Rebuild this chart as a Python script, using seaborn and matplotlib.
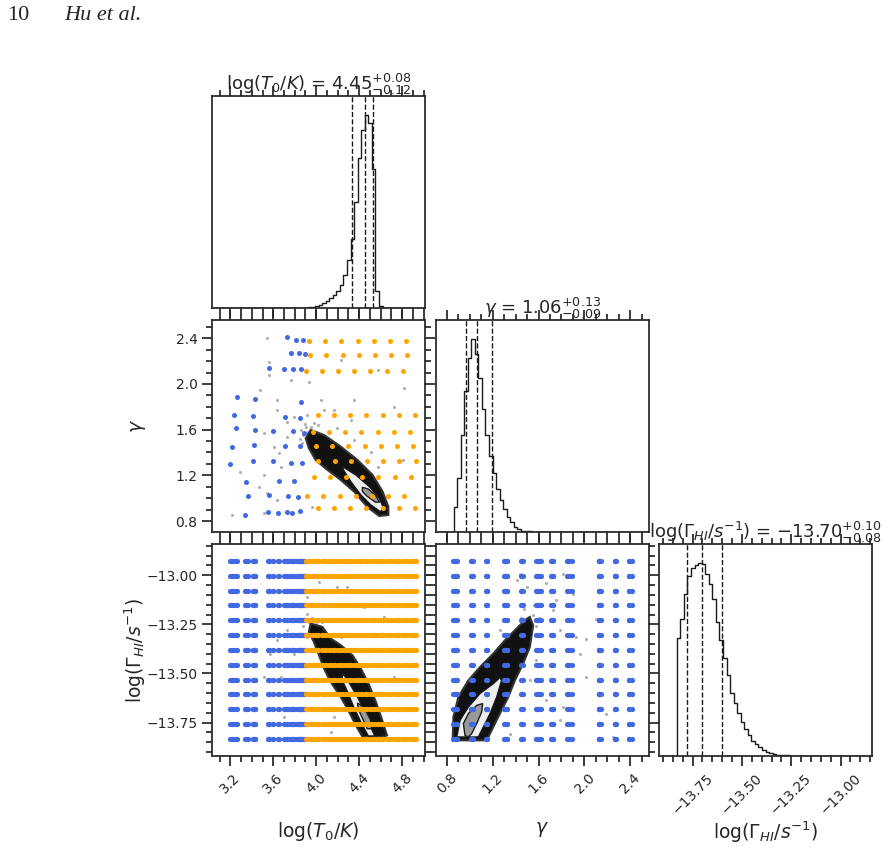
import numpy as np
import pandas as pd
import seaborn as sns
import matplotlib.pyplot as plt
from matplotlib.ticker import MultipleLocator

sns.set_theme(style="ticks")
plt.rcParams["font.family"] = ["DejaVu Sans"]

# parameter ranges shown on the axes
t_range = (3.03, 5.015)
g_range = (0.704, 2.562)
G_range = (-13.92, -12.84)
n_bins = 60

# 1D marginals (relative counts, starting at a given bin)
t_first = 26
t_hist = [0.002, 0.004, 0.007, 0.011, 0.017, 0.025, 0.035, 0.05, 0.068, 0.09,
          0.12, 0.17, 0.25, 0.36, 0.55, 0.78, 0.92, 1.0, 0.96, 0.72, 0.09, 0.01]
g_first = 5
g_hist = [0.127, 0.282, 0.501, 0.730, 0.902, 1.0, 0.923, 0.799, 0.639, 0.501,
          0.392, 0.306, 0.225, 0.165, 0.117, 0.079, 0.050, 0.028, 0.014, 0.007,
          0.004, 0.003, 0.002, 0.002, 0.001, 0.001]
G_first = 5
G_hist = [0.614, 0.710, 0.842, 0.931, 0.976, 0.988, 1.0, 0.993, 0.945, 0.890,
          0.816, 0.696, 0.602, 0.508, 0.422, 0.328, 0.276, 0.225, 0.177, 0.139,
          0.108, 0.079, 0.062, 0.045, 0.031, 0.022, 0.015, 0.010, 0.007, 0.005,
          0.004, 0.003, 0.002, 0.002, 0.001]

# 16/50/84 percentiles
t_q = [4.33, 4.45, 4.53]
g_q = [0.97, 1.06, 1.19]
G_q = [-13.78, -13.70, -13.60]

# training simulations (blue: low T0, orange: high T0)
blue_t = [3.730, 3.808, 3.877, 3.761, 3.839, 3.895, 3.565, 3.699, 3.786, 3.855,
          3.262, 3.434, 3.855, 3.237, 3.412, 3.708, 3.845, 3.256, 3.428, 3.599,
          3.786, 3.886, 3.219, 3.425, 3.705, 3.845, 3.200, 3.415, 3.596, 3.761,
          3.864, 3.350, 3.655, 3.792, 3.368, 3.565, 3.733, 3.833, 3.340, 3.552,
          3.646, 3.730, 3.771, 3.845]
blue_g = [2.411, 2.385, 2.385, 2.268, 2.274, 2.263, 2.140, 2.128, 2.128, 2.128,
          1.889, 1.868, 1.845, 1.728, 1.723, 1.714, 1.705, 1.617, 1.600, 1.591,
          1.591, 1.574, 1.451, 1.466, 1.457, 1.460, 1.299, 1.326, 1.326, 1.308,
          1.305, 1.139, 1.153, 1.153, 1.019, 1.031, 1.019, 1.013, 0.853, 0.882,
          0.873, 0.882, 0.873, 0.885]
orange_rows_g = [2.379, 2.251, 2.117, 1.728, 1.580, 1.460, 1.326, 1.185, 1.019, 0.911]
orange_rows_t = [
    [3.933, 4.082, 4.235, 4.385, 4.535, 4.687, 4.837],
    [3.942, 4.095, 4.245, 4.397, 4.550, 4.700, 4.849],
    [3.905, 4.052, 4.205, 4.355, 4.504, 4.657, 4.806],
    [4.014, 4.163, 4.315, 4.465, 4.618, 4.767, 4.920],
    [3.970, 4.119, 4.271, 4.421, 4.574, 4.723, 4.876],
    [3.998, 4.148, 4.297, 4.450, 4.599, 4.749, 4.902],
    [4.020, 4.173, 4.323, 4.475, 4.625, 4.774, 4.926],
    [3.980, 4.129, 4.281, 4.431, 4.580, 4.733, 4.883],
    [3.914, 4.067, 4.217, 4.366, 4.519, 4.669, 4.822],
    [4.017, 4.166, 4.318, 4.468, 4.618, 4.767, 4.920],
]
G_levels = [-12.927, -13.002, -13.078, -13.154, -13.228, -13.305, -13.380,
            -13.455, -13.533, -13.606, -13.682, -13.757, -13.834]

# posterior regions: dense cloud, outer contour, inner contour
tg_cloud_t = [3.948, 4.073, 4.229, 4.385, 4.525, 4.619, 4.672, 4.672, 4.587, 4.479,
              4.353, 4.229, 4.105, 3.995, 3.932, 3.902]
tg_cloud_g = [1.597, 1.553, 1.451, 1.334, 1.203, 1.057, 0.925, 0.853, 0.844, 0.920,
              1.057, 1.159, 1.247, 1.334, 1.437, 1.524]
tg_outer_t = [4.245, 4.369, 4.494, 4.587, 4.628, 4.597, 4.510, 4.416, 4.323, 4.254]
tg_outer_g = [1.276, 1.203, 1.101, 0.999, 0.911, 0.882, 0.940, 1.028, 1.144, 1.247]
tg_inner_t = [4.430, 4.485, 4.556, 4.590, 4.550, 4.470, 4.430]
tg_inner_g = [1.095, 1.080, 1.020, 0.965, 0.965, 1.020, 1.060]
tg_pts_t = [3.543, 3.559, 3.559, 3.481, 3.637, 3.761, 3.933, 4.042, 4.167, 3.637,
            3.730, 3.512, 3.605, 3.870, 3.652, 3.512, 3.465, 3.543, 3.294, 3.216,
            3.512, 3.637, 4.229, 4.572, 4.821, 4.728, 4.354, 4.510, 4.572, 4.806,
            4.323, 3.917, 3.902, 4.104, 4.198, 4.229, 4.354, 4.073, 3.792, 3.730,
            3.668, 3.964, 4.479, 3.88, 3.92, 3.95, 3.90, 3.86, 3.98, 4.02, 3.85,
            3.94, 4.00]
tg_pts_g = [2.400, 2.195, 2.079, 1.947, 1.860, 2.035, 2.020, 1.860, 1.772, 1.772,
            1.670, 1.568, 1.451, 1.480, 1.393, 1.203, 1.101, 1.042, 1.232, 0.853,
            0.867, 0.984, 2.210, 2.122, 1.962, 1.801, 1.509, 1.407, 1.276, 1.334,
            1.685, 1.728, 1.626, 1.451, 1.612, 1.334, 1.860, 1.772, 1.714, 1.539,
            1.276, 0.926, 1.101, 1.55, 1.58, 1.62, 1.65, 1.60, 1.66, 1.64, 1.52,
            1.50, 1.58]

tG_cloud_t = [3.948, 4.058, 4.135, 4.229, 4.338, 4.416, 4.494, 4.556, 4.610, 4.659,
              4.619, 4.432, 4.369, 4.307, 4.229, 4.135, 4.073, 4.026, 3.979, 3.932]
tG_cloud_G = [-13.246, -13.263, -13.322, -13.356, -13.407, -13.475, -13.560, -13.645,
              -13.730, -13.815, -13.823, -13.823, -13.764, -13.696, -13.620, -13.543,
              -13.475, -13.407, -13.340, -13.289]
tG_outer_t = [4.250, 4.310, 4.385, 4.455, 4.515, 4.545, 4.485, 4.410, 4.345, 4.285, 4.238]
tG_outer_G = [-13.501, -13.550, -13.620, -13.700, -13.781, -13.818, -13.818, -13.740,
              -13.665, -13.585, -13.530]
tG_inner_t = [4.385, 4.447, 4.505, 4.515, 4.475, 4.432, 4.390]
tG_inner_G = [-13.650, -13.675, -13.735, -13.781, -13.781, -13.730, -13.680]
tG_pts_t = [4.026, 4.198, 4.042, 3.917, 3.792, 3.730, 3.637, 3.574, 3.512, 3.668,
            3.792, 3.855, 4.042, 4.291, 4.447, 4.634, 4.728, 4.167, 4.135, 3.699,
            3.980, 3.917, 4.104, 4.229, 3.917, 4.073, 4.354, 4.541, 3.93, 3.96,
            4.00, 3.95, 4.03, 3.91, 3.98, 4.05, 3.88, 4.02]
tG_pts_G = [-13.034, -13.059, -13.144, -13.195, -13.229, -13.280, -13.331, -13.399,
            -13.518, -13.518, -13.399, -13.450, -13.450, -13.059, -13.161, -13.212,
            -13.518, -13.721, -13.798, -13.721, -13.263, -13.314, -13.229, -13.314,
            -13.110, -13.085, -13.670, -13.535, -13.24, -13.22, -13.25, -13.28,
            -13.27, -13.30, -13.31, -13.24, -13.26, -13.30]

gG_cloud_g = [0.852, 0.858, 0.901, 0.988, 1.090, 1.205, 1.307, 1.394, 1.481, 1.524,
              1.553, 1.524, 1.466, 1.394, 1.336, 1.278, 1.220, 1.177, 1.148]
gG_cloud_G = [-13.840, -13.721, -13.620, -13.535, -13.467, -13.399, -13.331, -13.280,
              -13.229, -13.212, -13.255, -13.365, -13.450, -13.535, -13.620, -13.687,
              -13.755, -13.806, -13.840]
gG_outer_g = [0.887, 0.916, 0.988, 1.090, 1.205, 1.263, 1.278, 1.235, 1.177, 1.119, 1.075]
gG_outer_G = [-13.823, -13.738, -13.671, -13.602, -13.552, -13.521, -13.535, -13.620,
              -13.704, -13.772, -13.823]
gG_inner_g = [0.959, 0.945, 0.988, 1.061, 1.113, 1.104, 1.061, 1.017, 0.988]
gG_inner_G = [-13.815, -13.755, -13.704, -13.662, -13.653, -13.696, -13.755, -13.806,
              -13.823]
gG_pts_g = [1.408, 1.495, 1.669, 1.814, 1.901, 1.727, 1.785, 1.930, 2.017, 2.104,
            1.959, 2.017, 1.814, 1.785, 1.669, 1.582, 1.524, 2.191, 2.249, 1.901,
            1.756, 1.437, 1.263, 1.205, 1.350, 1.45, 1.50, 1.55, 1.40, 1.48, 1.58,
            1.52, 1.42, 1.60, 1.35, 1.56, 1.47]
gG_pts_G = [-13.025, -13.059, -13.042, -12.992, -13.093, -13.178, -13.280, -13.314,
            -13.322, -13.221, -13.399, -13.518, -13.670, -13.738, -13.636, -13.433,
            -13.535, -13.704, -13.823, -13.229, -13.127, -12.992, -13.280, -13.670,
            -13.806, -13.22, -13.25, -13.20, -13.28, -13.30, -13.26, -13.34, -13.33,
            -13.22, -13.30, -13.15, -13.17]

t_label = r"$\log(T_0/K)$"
g_label = r"$\gamma$"
G_label = r"$\log(\Gamma_{HI}/s^{-1})$"

BLUE = "royalblue"
ORANGE = "orange"

# tables of simulation points
blue_df = pd.DataFrame({"t": blue_t, "g": blue_g})
orange_df = pd.DataFrame({
    "t": [t for row in orange_rows_t for t in row],
    "g": [g for g, row in zip(orange_rows_g, orange_rows_t) for _ in row],
})
lev = pd.DataFrame({"G": G_levels})
blue_G = blue_df.merge(lev, how="cross")
orange_G = orange_df.merge(lev, how="cross")

fig = plt.figure(figsize=(8.92, 8.49), dpi=100)
cols = [0.2377, 0.4885, 0.7388]
rows = [0.6372, 0.3734, 0.1095]
W, H = 0.2390, 0.2500

ax_t = fig.add_axes([cols[0], rows[0], W, H])
ax_tg = fig.add_axes([cols[0], rows[1], W, H])
ax_g = fig.add_axes([cols[1], rows[1], W, H])
ax_tG = fig.add_axes([cols[0], rows[2], W, H])
ax_gG = fig.add_axes([cols[1], rows[2], W, H])
ax_G = fig.add_axes([cols[2], rows[2], W, H])


def draw_hist(ax, rng, first, heights, quants, title):
    width = (rng[1] - rng[0]) / n_bins
    counts = np.zeros(n_bins)
    counts[first:first + len(heights)] = heights
    hist_df = pd.DataFrame({
        "x": rng[0] + width * (np.arange(n_bins) + 0.5),
        "w": counts,
    })
    sns.histplot(data=hist_df, x="x", weights="w", bins=n_bins, binrange=rng,
                 element="step", fill=False, color="k", linewidth=1, ax=ax)
    for q in quants:
        ax.axvline(q, color="k", ls="--", lw=1)
    ax.set_xlim(rng)
    ax.set_ylim(0, 1.1 * max(heights))
    ax.set_yticks([])
    ax.set_ylabel("")
    ax.set_xlabel("")
    ax.set_title(title, fontsize=13, y=1.0, pad=4)


def draw_density(ax, cx, cy, ox, oy, ix, iy, px, py):
    sns.scatterplot(x=px, y=py, s=5, color="k", alpha=0.35, linewidth=0, ax=ax)
    ax.fill(cx, cy, facecolor="#111111", edgecolor="#333333", lw=1.5)
    ax.fill(ox, oy, facecolor="#eeeeee", edgecolor="k", lw=1)
    ax.fill(ix, iy, facecolor="#999999", edgecolor="k", lw=1)


draw_hist(ax_t, t_range, t_first, t_hist, t_q,
          t_label + r" = $4.45_{-0.12}^{+0.08}$")
draw_hist(ax_g, g_range, g_first, g_hist, g_q,
          g_label + r" = $1.06_{-0.09}^{+0.13}$")
draw_hist(ax_G, G_range, G_first, G_hist, G_q,
          G_label + r" = $-13.70_{-0.08}^{+0.10}$")

# gamma vs T0
draw_density(ax_tg, tg_cloud_t, tg_cloud_g, tg_outer_t, tg_outer_g,
             tg_inner_t, tg_inner_g, tg_pts_t, tg_pts_g)
sns.scatterplot(data=blue_df, x="t", y="g", color=BLUE, s=13, linewidth=0, ax=ax_tg)
sns.scatterplot(data=orange_df, x="t", y="g", color=ORANGE, s=13, linewidth=0, ax=ax_tg)

# Gamma vs T0
draw_density(ax_tG, tG_cloud_t, tG_cloud_G, tG_outer_t, tG_outer_G,
             tG_inner_t, tG_inner_G, tG_pts_t, tG_pts_G)
sns.scatterplot(data=blue_G, x="t", y="G", color=BLUE, s=14, linewidth=0, ax=ax_tG)
sns.scatterplot(data=orange_G, x="t", y="G", color=ORANGE, s=14, linewidth=0, ax=ax_tG)

# Gamma vs gamma
draw_density(ax_gG, gG_cloud_g, gG_cloud_G, gG_outer_g, gG_outer_G,
             gG_inner_g, gG_inner_G, gG_pts_g, gG_pts_G)
sns.scatterplot(data=blue_G, x="g", y="G", color=BLUE, s=14, linewidth=0, ax=ax_gG)

# limits and ticks
for ax in [ax_t, ax_tg, ax_tG]:
    ax.set_xlim(t_range)
    ax.xaxis.set_major_locator(MultipleLocator(0.4))
    ax.xaxis.set_minor_locator(MultipleLocator(0.1))
for ax in [ax_g, ax_gG]:
    ax.set_xlim(g_range)
    ax.xaxis.set_major_locator(MultipleLocator(0.4))
    ax.xaxis.set_minor_locator(MultipleLocator(0.1))
ax_tg.set_ylim(g_range)
ax_tg.yaxis.set_major_locator(MultipleLocator(0.4))
ax_tg.yaxis.set_minor_locator(MultipleLocator(0.1))
ax_G.set_xlim(G_range)
ax_G.xaxis.set_major_locator(MultipleLocator(0.25))
ax_G.xaxis.set_minor_locator(MultipleLocator(0.05))
for ax in [ax_tG, ax_gG]:
    ax.set_ylim(G_range)
    ax.yaxis.set_major_locator(MultipleLocator(0.25))
    ax.yaxis.set_minor_locator(MultipleLocator(0.05))

for ax in [ax_tg, ax_tG, ax_gG]:
    ax.tick_params(which="both", direction="out", top=True, right=True,
                   width=1.25, labelsize=10)
    ax.tick_params(which="major", length=7)
    ax.tick_params(which="minor", length=4.5)
for ax in [ax_t, ax_g, ax_G]:
    ax.tick_params(which="both", direction="out", top=True, bottom=True,
                   left=False, right=False, width=1.25, labelsize=10)
    ax.tick_params(which="major", length=7)
    ax.tick_params(which="minor", length=4.5)

for ax in [ax_t, ax_tg, ax_g]:
    ax.set_xticklabels([])
    ax.set_xlabel("")
for ax in [ax_gG]:
    ax.set_yticklabels([])
    ax.set_ylabel("")
for ax in [ax_tG, ax_gG, ax_G]:
    for lab in ax.get_xticklabels():
        lab.set_rotation(45)

ax_tg.set_xlabel("")
ax_tg.set_ylabel(g_label, fontsize=13.5)
ax_tg.yaxis.set_label_coords(-0.3, 0.5)
ax_tG.set_ylabel(G_label, fontsize=13.5)
ax_tG.yaxis.set_label_coords(-0.3, 0.5)
ax_tG.set_xlabel(t_label, fontsize=13.5)
ax_gG.set_xlabel(g_label, fontsize=13.5)
ax_G.set_xlabel(G_label, fontsize=13.5)
for ax in [ax_tG, ax_gG, ax_G]:
    ax.xaxis.set_label_coords(0.5, -0.3)

fig.text(0.008, 0.9817, "10", fontsize=16, family="Liberation Serif", va="center")
fig.text(0.0717, 0.9817, "Hu et al.", fontsize=16, family="Liberation Serif",
         style="italic", va="center")

fig.savefig("out.png", dpi=100)
